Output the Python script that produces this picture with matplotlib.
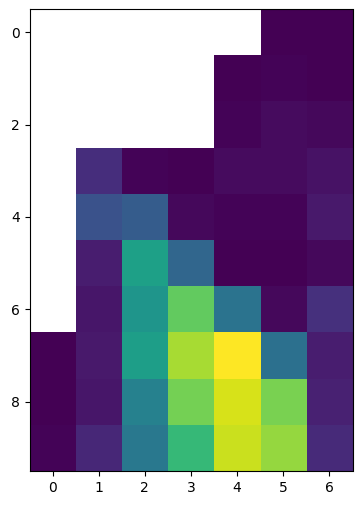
import numpy as np
import matplotlib
matplotlib.use("Agg")
import matplotlib.pyplot as plt

nan = np.nan

# values (0 to 1 scale)
row0 = [nan, nan, nan, nan, nan, 0.00, 0.00]
row1 = [nan, nan, nan, nan, 0.00, 0.01, 0.00]
row2 = [nan, nan, nan, nan, 0.01, 0.03, 0.02]
row3 = [nan, 0.13, 0.01, 0.00, 0.03, 0.03, 0.05]
row4 = [nan, 0.25, 0.29, 0.02, 0.01, 0.01, 0.07]
row5 = [nan, 0.08, 0.57, 0.33, 0.00, 0.00, 0.02]
row6 = [nan, 0.06, 0.52, 0.76, 0.38, 0.02, 0.14]
row7 = [0.00, 0.07, 0.56, 0.87, 1.00, 0.37, 0.08]
row8 = [0.00, 0.06, 0.44, 0.79, 0.94, 0.80, 0.09]
row9 = [0.01, 0.11, 0.40, 0.67, 0.92, 0.84, 0.12]

data = np.array([row0, row1, row2, row3, row4, row5, row6, row7, row8, row9])

fig = plt.figure(figsize=(3.61, 5.05), dpi=100)
ax = fig.add_axes([29.5 / 361, 1 - 471 / 505, 323 / 361, 462 / 505])
ax.imshow(data, cmap="viridis", vmin=0, vmax=1, aspect="auto")
ax.set_xticks(range(7))
ax.set_yticks(range(0, 10, 2))

fig.savefig("out.png", dpi=100)
